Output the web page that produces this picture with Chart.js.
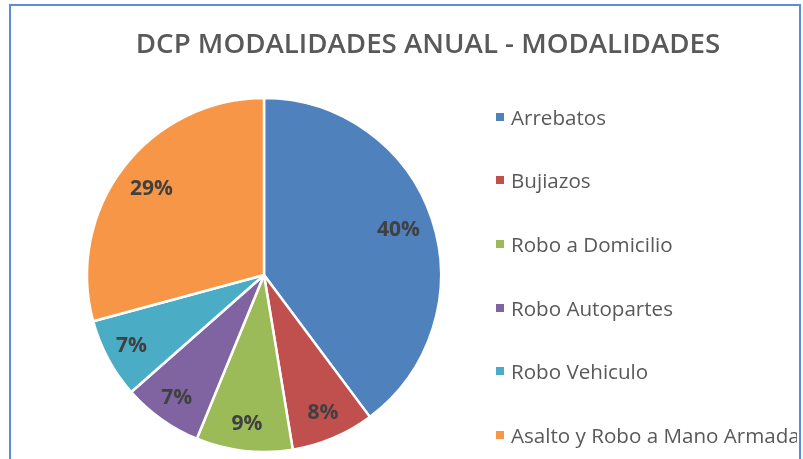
<!DOCTYPE html>
<html lang="es">
<head>
    <meta charset="UTF-8">
    <title>DCP Modalidades Anual</title>
    <script src="https://cdn.jsdelivr.net/npm/chart.js"></script>
    <style>
        body { margin: 0; width: 803px; height: 459px; overflow: hidden; background: #fff; font-family: 'Open Sans', sans-serif; }
        #frame { position: absolute; left: 9px; top: 4px; width: 788px; height: 480px; border: 2px solid #5b8ed6; }
        #chart { position: absolute; left: 0; top: 0; }
        #title { position: absolute; left: 78px; top: 23px; width: 700px; text-align: center; font-size: 27.7px; font-weight: 600; color: #595959; line-height: 38px; }
        #legend { position: absolute; left: 490px; top: 85px; width: 307px; overflow: hidden; white-space: nowrap; }
        .item { height: 63.6px; display: flex; align-items: center; font-size: 20.6px; color: #595959; }
        .box { width: 8px; height: 8px; margin: 0 7px 0 6px; flex: none; }
    </style>
</head>
<body>
    <div id="frame"></div>
    <canvas id="chart" width="803" height="459"></canvas>
    <div id="title">DCP MODALIDADES ANUAL - MODALIDADES</div>
    <div id="legend"></div>
    <script>
        // data (share of the year, in %)
        const categories = ['Arrebatos', 'Bujiazos', 'Robo a Domicilio', 'Robo Autopartes', 'Robo Vehiculo', 'Asalto y Robo a Mano Armada'];
        const shares = [39.8, 7.6, 8.8, 7.3, 7.3, 29.2];
        const colors = ['#4f81bd', '#c0504d', '#9bbb59', '#8064a2', '#4bacc6', '#f79646'];

        // percentage labels inside each slice
        const pctLabels = {
            id: 'pctLabels',
            afterDatasetsDraw(chart) {
                const ctx = chart.ctx;
                const data = chart.data.datasets[0].data;
                const total = data.reduce((a, b) => a + b, 0);
                ctx.save();
                ctx.font = 'bold 21px "Open Sans"';
                ctx.fillStyle = '#404040';
                ctx.textAlign = 'center';
                ctx.textBaseline = 'middle';
                chart.getDatasetMeta(0).data.forEach((arc, i) => {
                    const p = arc.getProps(['x', 'y', 'startAngle', 'endAngle', 'outerRadius'], true);
                    const mid = (p.startAngle + p.endAngle) / 2;
                    const share = data[i] / total;
                    const r = p.outerRadius * (share > 0.2 ? 0.8 : 0.85);
                    ctx.fillText(Math.round(share * 100) + '%', p.x + Math.cos(mid) * r, p.y + Math.sin(mid) * r);
                });
                ctx.restore();
            }
        };

        const chart = new Chart(document.getElementById('chart'), {
            type: 'pie',
            data: {
                labels: categories,
                datasets: [{
                    data: shares,
                    backgroundColor: colors,
                    borderColor: '#ffffff',
                    borderWidth: 2.5,
                    radius: 177
                }]
            },
            options: {
                responsive: false,
                animation: false,
                layout: { padding: { left: 0, right: 275, top: 91, bottom: 0 } },
                plugins: {
                    legend: { display: false },
                    tooltip: { enabled: false }
                }
            },
            plugins: [pctLabels]
        });

        // legend built from the same arrays
        const legend = document.getElementById('legend');
        categories.forEach((name, i) => {
            const row = document.createElement('div');
            row.className = 'item';
            row.innerHTML = '<span class="box" style="background:' + colors[i] + '"></span><span>' + name + '</span>';
            legend.appendChild(row);
        });
    </script>
</body>
</html>
